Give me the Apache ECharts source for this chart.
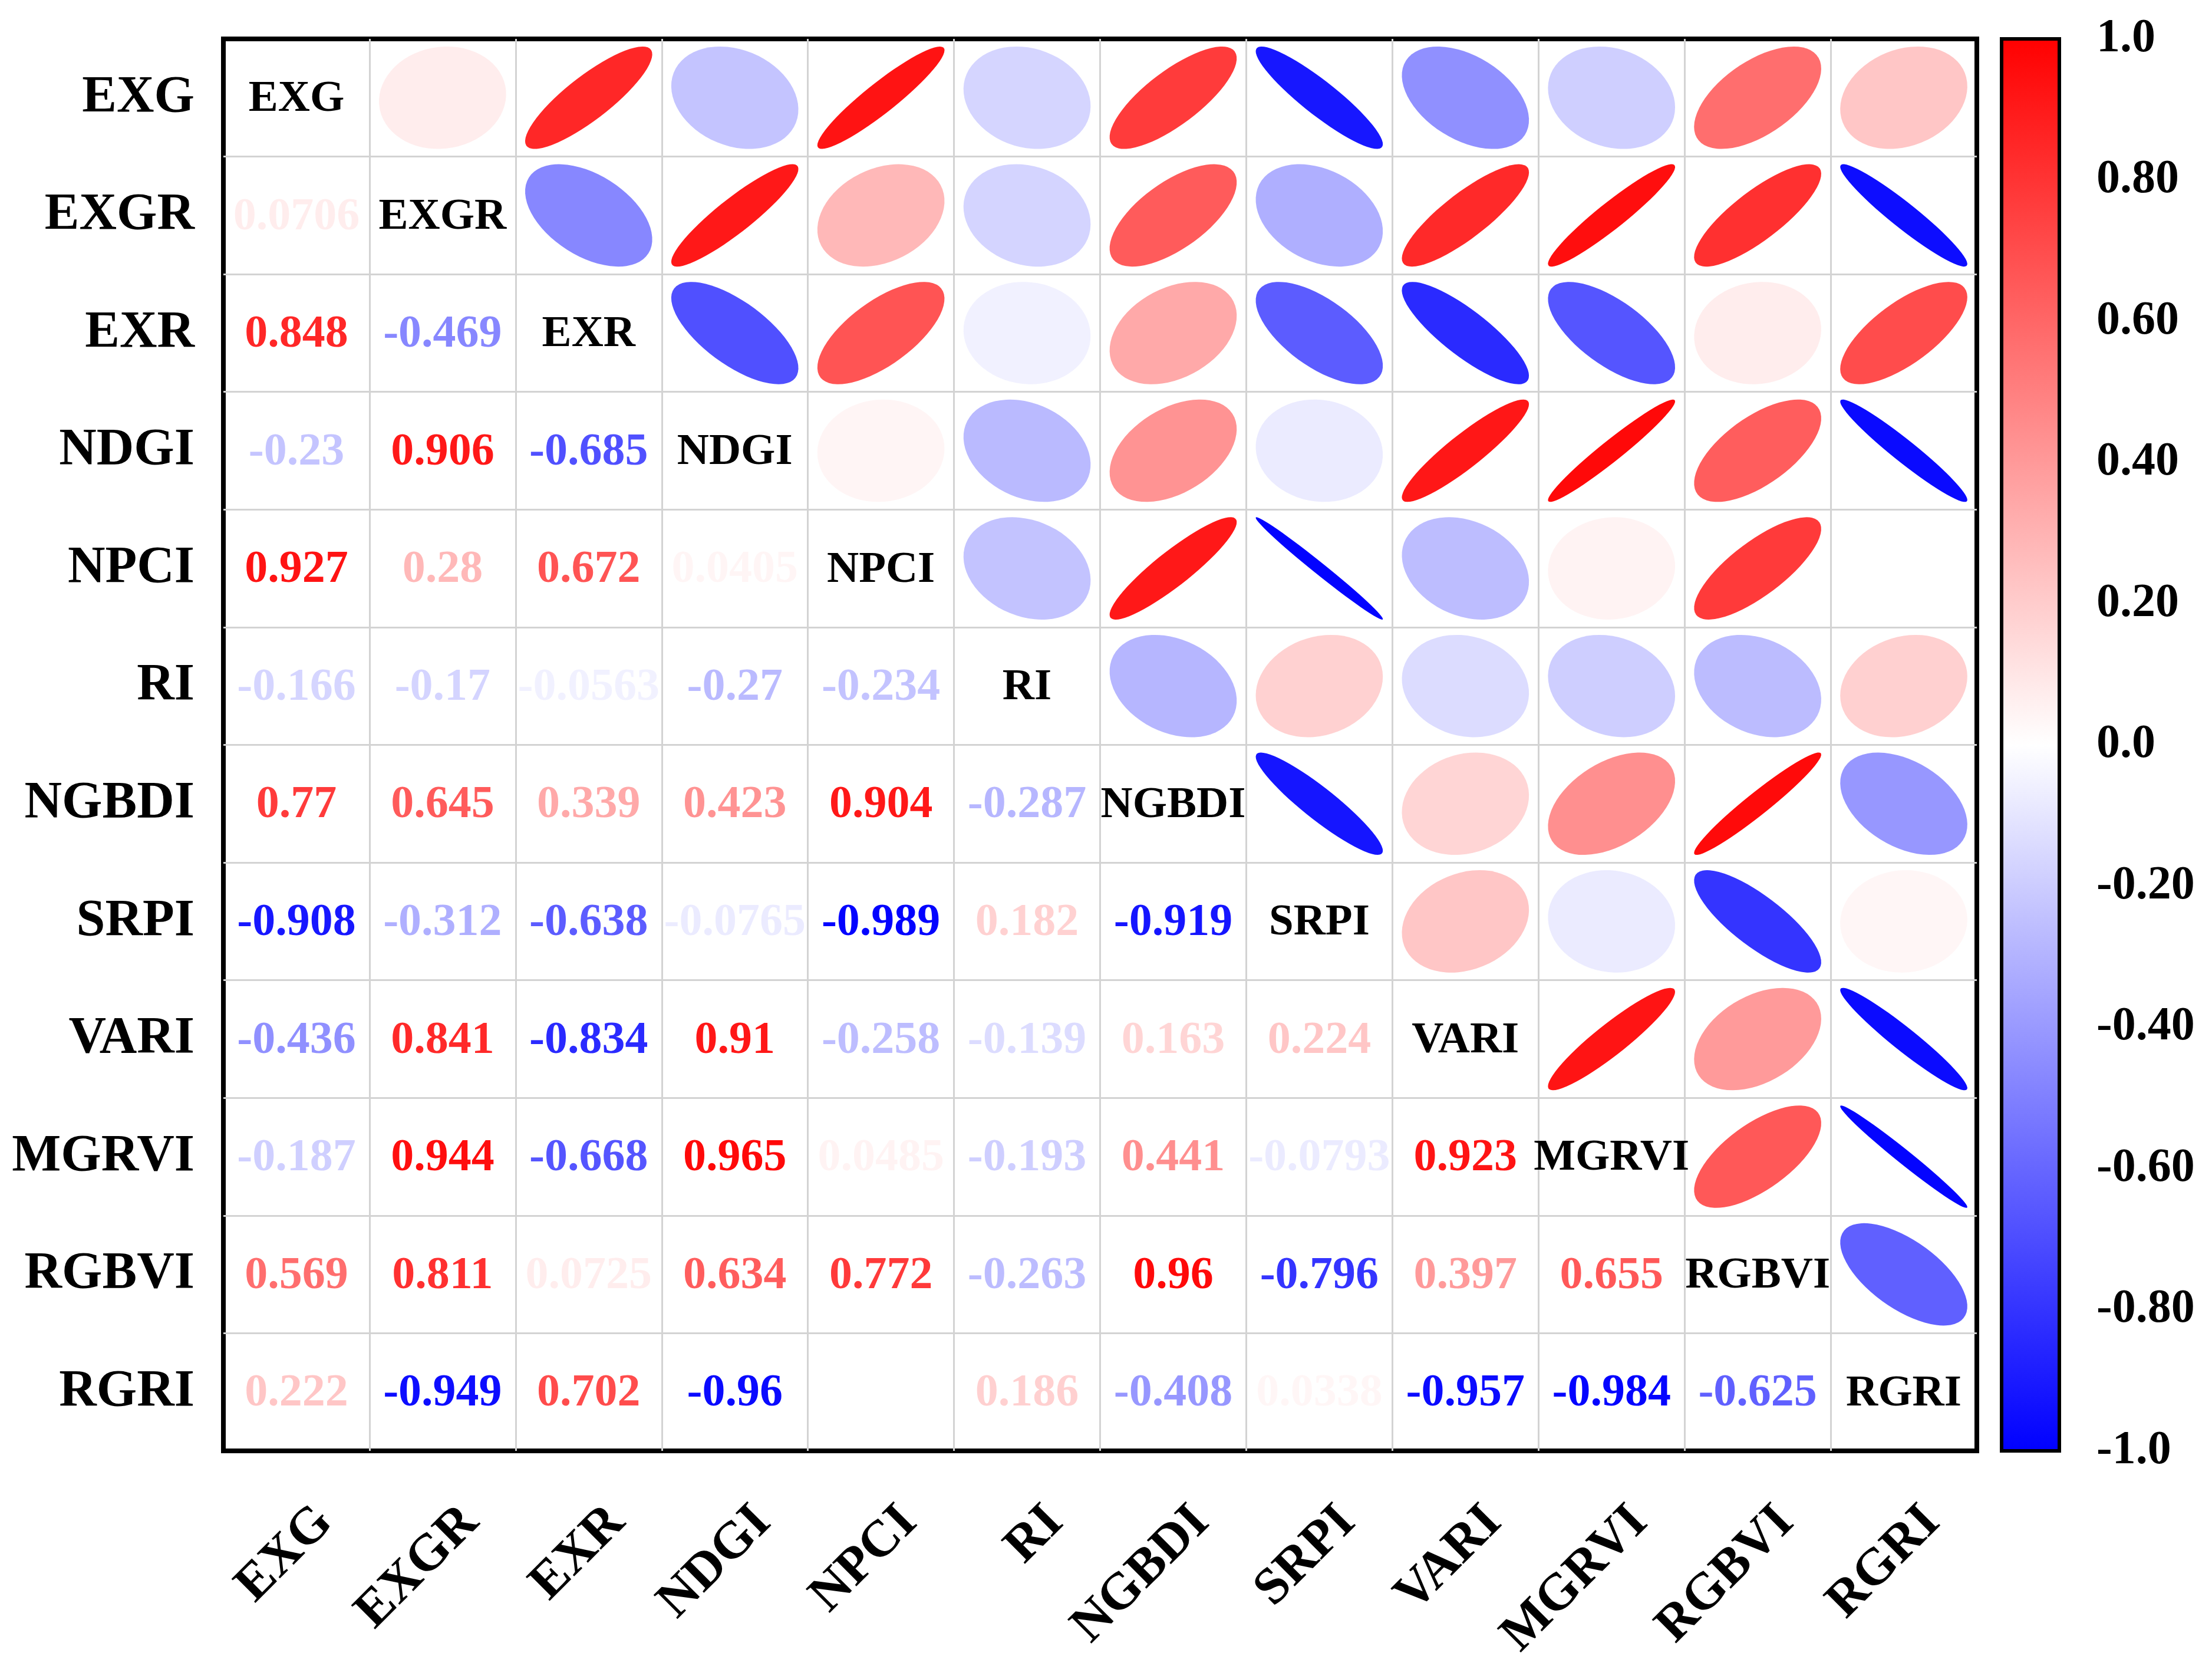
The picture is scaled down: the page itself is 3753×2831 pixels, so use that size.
<!DOCTYPE html>
<html>
<head>
<meta charset="utf-8">
<script src="https://cdn.jsdelivr.net/npm/echarts@6/dist/echarts.min.js"></script>
<style>
html,body{margin:0;padding:0;background:#fff;}
#chart{width:3753px;height:2831px;}
</style>
</head>
<body>
<div id="chart"></div>
<script>
// ---------------- DATA ----------------
var categories = ['EXG','EXGR','EXR','NDGI','NPCI','RI','NGBDI','SRPI','VARI','MGRVI','RGBVI','RGRI'];

// lower-triangle correlation values, row by row (columns in category order)
var corrEXG   = [];
var corrEXGR  = [0.0706];
var corrEXR   = [0.848, -0.469];
var corrNDGI  = [-0.23, 0.906, -0.685];
var corrNPCI  = [0.927, 0.28, 0.672, 0.0405];
var corrRI    = [-0.166, -0.17, -0.0563, -0.27, -0.234];
var corrNGBDI = [0.77, 0.645, 0.339, 0.423, 0.904, -0.287];
var corrSRPI  = [-0.908, -0.312, -0.638, -0.0765, -0.989, 0.182, -0.919];
var corrVARI  = [-0.436, 0.841, -0.834, 0.91, -0.258, -0.139, 0.163, 0.224];
var corrMGRVI = [-0.187, 0.944, -0.668, 0.965, 0.0485, -0.193, 0.441, -0.0793, 0.923];
var corrRGBVI = [0.569, 0.811, 0.0725, 0.634, 0.772, -0.263, 0.96, -0.796, 0.397, 0.655];
var corrRGRI  = [0.222, -0.949, 0.702, -0.96, 0, 0.186, -0.408, 0.0338, -0.957, -0.984, -0.625];

var colorbarTicks = [-1, -0.8, -0.6, -0.4, -0.2, 0, 0.2, 0.4, 0.6, 0.8, 1];
var colorbarTickLabels = ['-1.0','-0.80','-0.60','-0.40','-0.20','0.0','0.20','0.40','0.60','0.80','1.0'];

// ---------------- BUILD ----------------
var lowerRows = [corrEXG, corrEXGR, corrEXR, corrNDGI, corrNPCI, corrRI, corrNGBDI,
                 corrSRPI, corrVARI, corrMGRVI, corrRGBVI, corrRGRI];
var n = categories.length;
function corr(i, j) {
  if (i === j) return 1;
  return i > j ? lowerRows[i][j] : lowerRows[j][i];
}
var cellData = [];
for (var r = 0; r < n; r++) {
  for (var c = 0; c < n; c++) {
    cellData.push([c, r, corr(r, c)]);
  }
}

var FONT = '"Liberation Serif", "Times New Roman", serif';
var K = 0.87;

var gridMain = {left: 379, top: 66, width: 2975, height: 2395};

var chart = echarts.init(document.getElementById('chart'), null, {renderer: 'canvas'});

var option = {
  backgroundColor: '#ffffff',
  animation: false,
  grid: [
    {left: gridMain.left, top: gridMain.top, width: gridMain.width, height: gridMain.height,
     show: true, borderColor: '#000', borderWidth: 8, backgroundColor: 'transparent'},
    {left: 3396, top: 66, width: 98, height: 2395, show: false},
    {left: gridMain.left + 48, top: gridMain.top, width: gridMain.width, height: gridMain.height, show: false}
  ],
  visualMap: {
    show: false, type: 'continuous', seriesIndex: 0, dimension: 2,
    min: -1, max: 1,
    inRange: {color: ['#0000ff', '#ffffff', '#ff0000']}
  },
  xAxis: [
    {type: 'category', gridIndex: 0, data: categories, position: 'bottom',
     axisLine: {show: false}, axisTick: {show: false}, axisLabel: {show: false},
     splitLine: {show: true, interval: 0, showMinLine: false, showMaxLine: false,
                 lineStyle: {color: '#d3d3d3', width: 3}}},
    {type: 'value', gridIndex: 1, min: 0, max: 1, show: false},
    {type: 'category', gridIndex: 2, data: categories, position: 'bottom',
     axisLine: {show: false}, axisTick: {show: false}, splitLine: {show: false},
     axisLabel: {show: true, interval: 0, rotate: 45, margin: 108,
                 fontFamily: FONT, fontWeight: 'bold', fontSize: 88, color: '#000'}}
  ],
  yAxis: [
    {type: 'category', gridIndex: 0, data: categories, inverse: true,
     axisLine: {show: false}, axisTick: {show: false},
     axisLabel: {show: true, interval: 0, margin: 49,
                 fontFamily: FONT, fontWeight: 'bold', fontSize: 88, color: '#000'},
     splitLine: {show: true, interval: 0, showMinLine: false, showMaxLine: false,
                 lineStyle: {color: '#d3d3d3', width: 3}}},
    {type: 'value', gridIndex: 1, position: 'right', min: -1, max: 1, interval: 0.2,
     axisLine: {show: true, lineStyle: {color: '#000', width: 6}},
     axisTick: {show: true, inside: false, length: 46, lineStyle: {color: '#000', width: 6}},
     splitLine: {show: false},
     axisLabel: {show: true, margin: 63, align: 'left',
                 fontFamily: FONT, fontWeight: 'bold', fontSize: 80, color: '#000',
                 formatter: function (v) {
                   var idx = colorbarTicks.findIndex(function (t) { return Math.abs(t - v) < 1e-6; });
                   return idx >= 0 ? colorbarTickLabels[idx] : '';
                 }}},
    {type: 'category', gridIndex: 2, data: categories, inverse: true, show: false}
  ],
  series: [
    {
      type: 'custom',
      xAxisIndex: 0, yAxisIndex: 0,
      data: cellData,
      encode: {x: 0, y: 1},
      renderItem: function (params, api) {
        var col = api.value(0), row = api.value(1), v = api.value(2);
        var p = api.coord([col, row]);
        var sz = api.size([1, 1]);
        var color = api.visual('color');
        if (col === row) {
          return {type: 'text', x: p[0], y: p[1] + 3,
                  style: {text: categories[col], fill: '#000', fontSize: 75, fontWeight: 'bold',
                          fontFamily: FONT, align: 'center', verticalAlign: 'middle',
                          textAlign: 'center', textVerticalAlign: 'middle'}};
        }
        if (col < row) {
          return {type: 'text', x: p[0], y: p[1] + 3,
                  style: {text: String(v), fill: color, fontSize: 78, fontWeight: 'bold',
                          fontFamily: FONT, align: 'center', verticalAlign: 'middle',
                          textAlign: 'center', textVerticalAlign: 'middle'}};
        }
        var av = Math.abs(v);
        return {
          type: 'group', x: p[0], y: p[1],
          scaleX: K * sz[0] / 2, scaleY: K * sz[1] / 2,
          children: [{
            type: 'circle', shape: {cx: 0, cy: 0, r: 1},
            rotation: v >= 0 ? Math.PI / 4 : -Math.PI / 4,
            scaleX: Math.sqrt(1 + av), scaleY: Math.sqrt(Math.max(1 - av, 0.0001)),
            style: {fill: color, lineWidth: 0}
          }]
        };
      }
    },
    {
      type: 'custom',
      xAxisIndex: 1, yAxisIndex: 1,
      data: [[0, -1, 1]],
      renderItem: function (params, api) {
        var p1 = api.coord([0, 1]);
        var p2 = api.coord([1, -1]);
        return {
          type: 'rect',
          shape: {x: p1[0], y: p1[1], width: p2[0] - p1[0], height: p2[1] - p1[1]},
          style: {
            fill: {type: 'linear', x: 0, y: 0, x2: 0, y2: 1,
                   colorStops: [{offset: 0, color: '#ff0000'}, {offset: 0.5, color: '#ffffff'},
                                {offset: 1, color: '#0000ff'}]},
            stroke: '#000', lineWidth: 6
          }
        };
      }
    }
  ]
};
chart.setOption(option);
</script>
</body>
</html>
